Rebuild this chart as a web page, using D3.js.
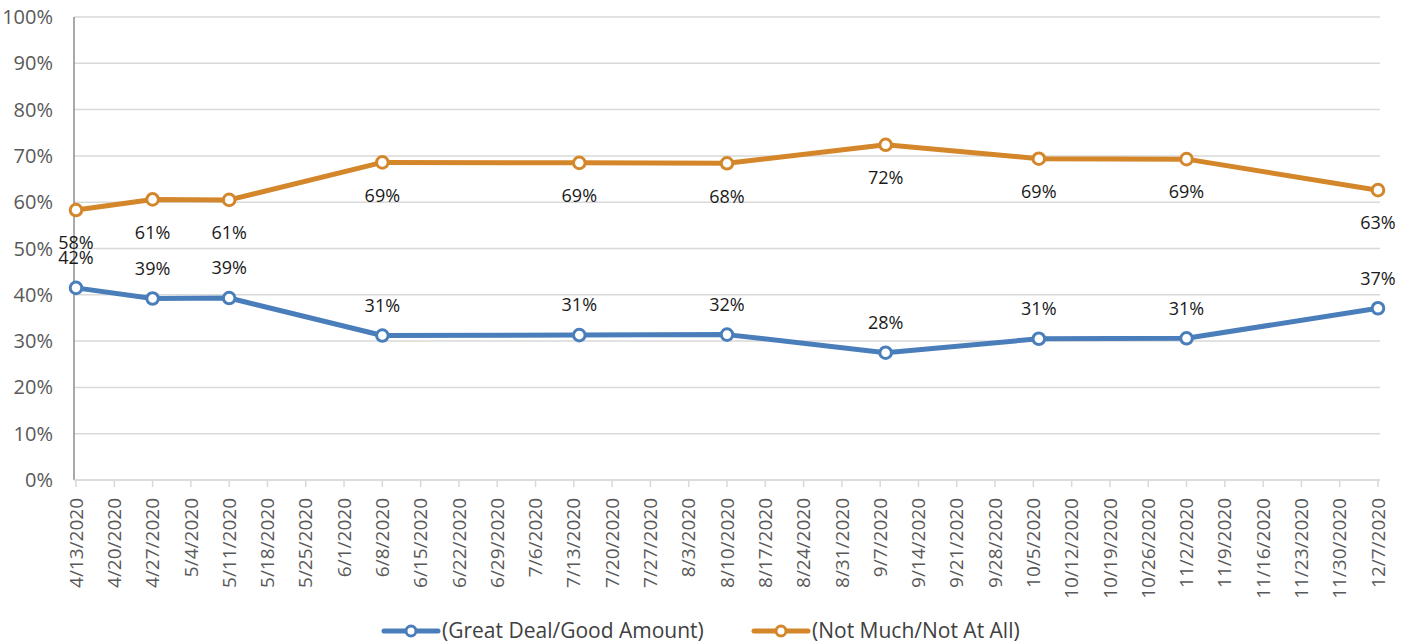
<!DOCTYPE html>
<html><head><meta charset="utf-8">
<script src="https://cdn.jsdelivr.net/npm/d3@7"></script>
<style>body{margin:0;background:#fff;font-family:"Open Sans",sans-serif}</style>
</head><body><svg id="c" width="1416" height="644"></svg>
<script>
const dates = ["4/13/2020","4/27/2020","5/11/2020","6/8/2020","7/14/2020","8/10/2020","9/8/2020","10/6/2020","11/2/2020","12/7/2020"];
const greatDeal = [41.5,39.2,39.3,31.2,31.3,31.4,27.5,30.5,30.6,37.1];
const greatDealLabels = ["42%","39%","39%","31%","31%","32%","28%","31%","31%","37%"];
const notMuch = [58.3,60.6,60.5,68.6,68.5,68.4,72.4,69.4,69.3,62.6];
const notMuchLabels = ["58%","61%","61%","69%","69%","68%","72%","69%","69%","63%"];
const yTicks = [0,10,20,30,40,50,60,70,80,90,100];
const seriesNames = ["(Great Deal/Good Amount)","(Not Much/Not At All)"];
const colors = ["#4a7ebb","#d4862a"];

const parse = d3.timeParse("%m/%d/%Y");
const fmt = d => `${d.getMonth()+1}/${d.getDate()}/${d.getFullYear()}`;
const svg = d3.select("#c");
const L=74, R=1380, T=17, B=480;
const x = d3.scaleTime().domain([parse("4/13/2020"), parse("12/7/2020")]).range([L+2, R-2]);
const y = d3.scaleLinear().domain([0,100]).range([B,T]);

// grid
svg.append("g").selectAll("line").data(yTicks).join("line")
  .attr("x1",L).attr("x2",R).attr("y1",d=>y(d)).attr("y2",d=>y(d))
  .attr("stroke","#d9d9d9").attr("stroke-width",1.5);
// y labels
svg.append("g").selectAll("text").data(yTicks).join("text")
  .attr("x",53).attr("y",d=>y(d)).attr("dy","0.35em").attr("text-anchor","end")
  .attr("font-size",20).attr("fill","#595959").text(d=>d+"%");
// y axis line
svg.append("line").attr("x1",L).attr("x2",L).attr("y1",T).attr("y2",B).attr("stroke","#8c8c8c").attr("stroke-width",1.5);

// x axis
const weeks = d3.timeMonday.every(1).range(parse("4/13/2020"), d3.timeDay.offset(parse("12/7/2020"),1));
const xg = svg.append("g");
xg.selectAll("line").data(weeks).join("line")
  .attr("x1",d=>x(d)).attr("x2",d=>x(d)).attr("y1",B).attr("y2",B+7)
  .attr("stroke","#d9d9d9").attr("stroke-width",1.5);
xg.append("line").attr("x1",L).attr("x2",R).attr("y1",B).attr("y2",B).attr("stroke","#d9d9d9").attr("stroke-width",1.5);
xg.selectAll("text").data(weeks).join("text")
  .attr("transform",d=>`translate(${x(d)},498) rotate(-90)`)
  .attr("text-anchor","end").attr("dy","0.35em")
  .attr("font-size",19).attr("fill","#595959").text(fmt);

const series = [
  {vals:greatDeal, labels:greatDealLabels, color:colors[0], off:-30},
  {vals:notMuch, labels:notMuchLabels, color:colors[1], off:33}
];
const line = d3.line().x(d=>x(d.d)).y(d=>y(d.v));
series.forEach(s=>{
  const pts = dates.map((d,i)=>({d:parse(d), v:s.vals[i], l:s.labels[i]}));
  svg.append("path").datum(pts).attr("d",line).attr("fill","none")
    .attr("stroke",s.color).attr("stroke-width",5).attr("stroke-linejoin","round");
  svg.append("g").selectAll("circle").data(pts).join("circle")
    .attr("cx",d=>x(d.d)).attr("cy",d=>y(d.v)).attr("r",5.8)
    .attr("fill","#fff").attr("stroke",s.color).attr("stroke-width",3);
  svg.append("g").selectAll("text").data(pts).join("text")
    .attr("x",d=>x(d.d)).attr("y",d=>y(d.v)+s.off).attr("dy","0.35em")
    .attr("text-anchor","middle").attr("font-size",18).attr("fill","#1a1a1a").text(d=>d.l);
});

// legend
const leg = [{x:384, t:seriesNames[0], c:colors[0]},{x:754, t:seriesNames[1], c:colors[1]}];
leg.forEach(l=>{
  const g = svg.append("g").attr("transform",`translate(${l.x},631)`);
  g.append("line").attr("x1",0).attr("x2",54).attr("stroke",l.c).attr("stroke-width",5).attr("stroke-linecap","round");
  g.append("circle").attr("cx",27).attr("r",5).attr("fill","#fff").attr("stroke",l.c).attr("stroke-width",3);
  g.append("text").attr("x",58).attr("dy","0.35em").attr("font-size",21).attr("fill","#404040").text(l.t);
});
</script></body></html>
